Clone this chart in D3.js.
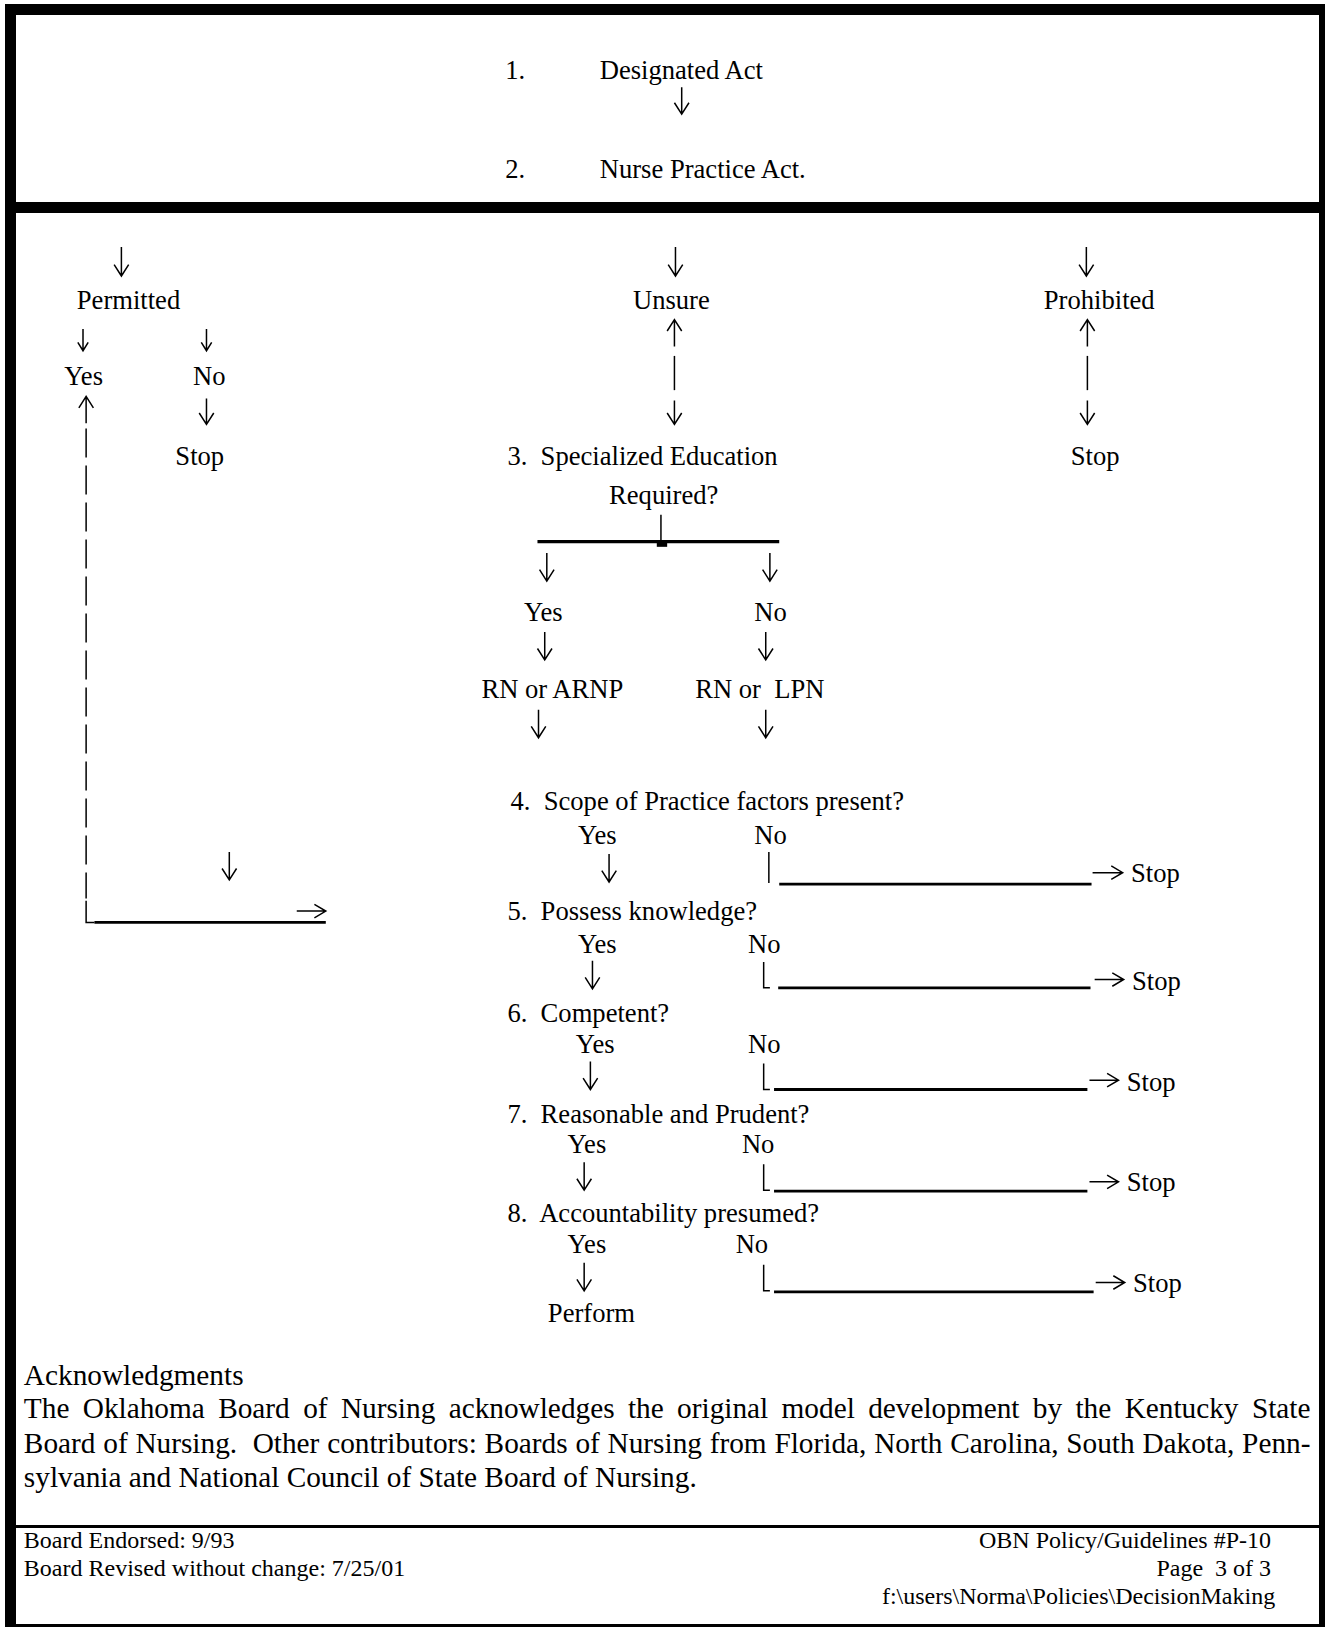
<!DOCTYPE html>
<html><head><meta charset="utf-8">
<script src="https://cdn.jsdelivr.net/npm/d3@7"></script>
<style>
html,body{margin:0;padding:0;background:#fff;}
svg{display:block;}
text{font-family:"Liberation Serif","Times New Roman",serif;fill:#000;white-space:pre;}
</style>
</head><body>
<svg id="c" width="1325" height="1627"></svg>
<script>
// ---------- content ----------
const actNumbers = ["1.", "2."];
const actLabels = ["Designated Act", "Nurse Practice Act."];
const outcomeLabels = ["Permitted", "Unsure", "Prohibited"];
const answerLabels = ["Yes", "No"];
const endLabel = "Stop";
const educationQuestion = ["3.  Specialized Education", "Required?"];
const credentialLabels = ["RN or ARNP", "RN or  LPN"];
const decisionQuestions = [
  "4.  Scope of Practice factors present?",
  "5.  Possess knowledge?",
  "6.  Competent?",
  "7.  Reasonable and Prudent?",
  "8.  Accountability presumed?"
];
const finalLabel = "Perform";
const ackTitle = "Acknowledgments";
const ackLines = [
  "The Oklahoma Board of Nursing acknowledges the original model development by the Kentucky State",
  "Board of Nursing.  Other contributors: Boards of Nursing from Florida, North Carolina, South Dakota, Penn-",
  "sylvania and National Council of State Board of Nursing."
];
const footerLeft = ["Board Endorsed: 9/93", "Board Revised without change: 7/25/01"];
const footerRight = ["OBN Policy/Guidelines #P-10", "Page  3 of 3", "f:\\users\\Norma\\Policies\\DecisionMaking"];

// ---------- layout ----------
const W = 1325, H = 1627;
const X = d3.scaleLinear().domain([0, 1277]).range([0, W]);
const Y = d3.scaleLinear().domain([0, 1568]).range([0, H]);
const svg = d3.select("#c");
const FLOW = 26.6, ACK = 29.3, FOOT = 24;

// frame
const frame = [
  [5, 4, 1320, 11], [5, 4, 11, 1623], [1319, 4, 11, 1623],
  [5, 202, 1320, 11], [16, 1525, 1303, 3], [5, 1624, 1320, 3]
];
svg.append("g").selectAll("rect").data(frame).join("rect")
  .attr("x", d => d[0]).attr("y", d => d[1]).attr("width", d => d[2]).attr("height", d => d[3])
  .attr("fill", "#000");

const g = svg.append("g");
const thin = 1.5;

function down(x, y1, y2, hw = 7, hh = 11) {
  return `M${X(x)},${Y(y1)}L${X(x)},${Y(y2)}M${X(x - hw)},${Y(y2 - hh)}L${X(x)},${Y(y2)}L${X(x + hw)},${Y(y2 - hh)}`;
}
function up(x, y1, y2, hw = 7, hh = 11) {
  return `M${X(x)},${Y(y2)}L${X(x)},${Y(y1)}M${X(x - hw)},${Y(y1 + hh)}L${X(x)},${Y(y1)}L${X(x + hw)},${Y(y1 + hh)}`;
}
function right(x1, x2, y, hw = 6.5, hh = 11) {
  return `M${X(x1)},${Y(y)}L${X(x2)},${Y(y)}M${X(x2 - hh)},${Y(y - hw)}L${X(x2)},${Y(y)}L${X(x2 - hh)},${Y(y + hw)}`;
}
function vline(x, y1, y2) { return `M${X(x)},${Y(y1)}L${X(x)},${Y(y2)}`; }
function corner(x, y1, y2, foot = 7) { return `M${X(x)},${Y(y1)}L${X(x)},${Y(y2)}L${X(x + foot)},${Y(y2)}`; }

// decision step layout (4..8)
const stepLayout = [
  {qx: 492, qy: 781, yesX: 557, noX: 727, ansY: 813, ax: 587, a1: 823, a2: 850, mark: "bar", mx: 741, m1: 821, m2: 851, l1: 751, l2: 1052, ly: 852, r1: 1053, r2: 1082, ry: 841, sx: 1090, sy: 850},
  {qx: 489, qy: 887, yesX: 557, noX: 721, ansY: 918, ax: 571, a1: 926, a2: 953, mark: "corner", mx: 736, m1: 927, m2: 952, l1: 750, l2: 1051, ly: 952, r1: 1055, r2: 1083, ry: 944, sx: 1091, sy: 954},
  {qx: 489, qy: 985, yesX: 555, noX: 721, ansY: 1015, ax: 569, a1: 1023, a2: 1050, mark: "corner", mx: 736, m1: 1025, m2: 1050, l1: 746, l2: 1048, ly: 1050, r1: 1050, r2: 1078, ry: 1041, sx: 1086, sy: 1051},
  {qx: 489, qy: 1082, yesX: 547, noX: 715, ansY: 1111, ax: 563, a1: 1120, a2: 1147, mark: "corner", mx: 736, m1: 1122, m2: 1147, l1: 746, l2: 1048, ly: 1148, r1: 1050, r2: 1078, ry: 1139, sx: 1086, sy: 1148},
  {qx: 489, qy: 1178, yesX: 547, noX: 709, ansY: 1208, ax: 563, a1: 1217, a2: 1244, mark: "corner", mx: 736, m1: 1219, m2: 1244, l1: 746, l2: 1054, ly: 1245, r1: 1056, r2: 1084, ry: 1236, sx: 1092, sy: 1245}
];

// thin paths
const paths = [
  down(657, 84, 110),
  down(117, 238, 266), down(651, 238, 266), down(1047, 238, 266),
  down(80, 317, 338, 5, 8), down(199, 317, 338, 5, 8),
  down(199, 384, 409),
  up(650, 308, 334), vline(650, 343, 376), down(650, 386, 409),
  up(1048, 308, 334), vline(1048, 343, 376), down(1048, 386, 409),
  up(83, 382, 408),
  corner(83, 868, 889, 8),
  down(221, 821, 848),
  right(286, 314, 878),
  vline(637, 496, 522),
  down(527, 533, 560), down(742, 533, 560),
  down(525, 609, 636), down(738, 609, 636),
  down(519, 684, 711), down(738, 684, 711)
];
stepLayout.forEach(s => {
  paths.push(down(s.ax, s.a1, s.a2));
  paths.push(s.mark === "bar" ? vline(s.mx, s.m1, s.m2) : corner(s.mx, s.m1, s.m2, 6));
  paths.push(right(s.r1, s.r2, s.ry));
});
g.selectAll("path.thin").data(paths).join("path").attr("class", "thin")
  .attr("d", d => d).attr("fill", "none").attr("stroke", "#000")
  .attr("stroke-width", thin).attr("stroke-linejoin", "miter");

// dashed return line
g.append("path").attr("d", vline(83, 413, 866)).attr("fill", "none")
  .attr("stroke", "#000").attr("stroke-width", thin).attr("stroke-dasharray", "29,8");

// thick lines
const thick = [[91, 314, 889, 2.8], [518, 751, 522, 3.2]];
stepLayout.forEach(s => thick.push([s.l1, s.l2, s.ly, 2.8]));
g.selectAll("line.thick").data(thick).join("line").attr("class", "thick")
  .attr("x1", d => X(d[0])).attr("x2", d => X(d[1])).attr("y1", d => Y(d[2])).attr("y2", d => Y(d[2]))
  .attr("stroke", "#000").attr("stroke-width", d => d[3]);
g.append("rect").attr("x", X(633)).attr("y", Y(522)).attr("width", X(643) - X(633)).attr("height", Y(527) - Y(522)).attr("fill", "#000");

// flow texts
const texts = [
  {t: actNumbers[0], x: 487, y: 76}, {t: actLabels[0], x: 578, y: 76},
  {t: actNumbers[1], x: 487, y: 172}, {t: actLabels[1], x: 578, y: 172},
  {t: outcomeLabels[0], x: 74, y: 298}, {t: outcomeLabels[1], x: 610, y: 298}, {t: outcomeLabels[2], x: 1006, y: 298},
  {t: answerLabels[0], x: 62, y: 371}, {t: answerLabels[1], x: 186, y: 371},
  {t: endLabel, x: 169, y: 448}, {t: endLabel, x: 1032, y: 448},
  {t: educationQuestion[0], x: 489, y: 448}, {t: educationQuestion[1], x: 587, y: 486},
  {t: answerLabels[0], x: 505, y: 598}, {t: answerLabels[1], x: 727, y: 598},
  {t: credentialLabels[0], x: 464, y: 673}, {t: credentialLabels[1], x: 670, y: 673},
  {t: finalLabel, x: 528, y: 1274}
];
stepLayout.forEach((s, i) => {
  texts.push({t: decisionQuestions[i], x: s.qx, y: s.qy});
  texts.push({t: answerLabels[0], x: s.yesX, y: s.ansY});
  texts.push({t: answerLabels[1], x: s.noX, y: s.ansY});
  texts.push({t: endLabel, x: s.sx, y: s.sy});
});
g.selectAll("text.flow").data(texts).join("text").attr("class", "flow")
  .attr("x", d => X(d.x)).attr("y", d => Y(d.y)).style("font-size", FLOW + "px").text(d => d.t);

// acknowledgments
g.append("text").attr("x", X(23)).attr("y", Y(1335)).style("font-size", ACK + "px").text(ackTitle);
const left = X(23), rightEdge = X(1263);
const ackY = [1367, 1400, 1433];
ackLines.forEach((line, i) => {
  const t = g.append("text").attr("y", Y(ackY[i])).style("font-size", ACK + "px");
  if (i === ackLines.length - 1) { t.attr("x", left).text(line); return; }
  const words = line.split(" ");
  const spans = words.map(w => t.append("tspan").text(w));
  const widths = spans.map(s => s.node().getComputedTextLength());
  const total = d3.sum(widths);
  const gap = (rightEdge - left - total) / (words.length - 1);
  let x = left;
  spans.forEach((s, j) => { s.attr("x", x); x += widths[j] + gap; });
});

// footer
g.selectAll("text.fl").data(footerLeft).join("text").attr("class", "fl")
  .attr("x", X(23)).attr("y", (d, i) => Y(1492 + i * 27)).style("font-size", FOOT + "px").text(d => d);
g.selectAll("text.fr").data(footerRight).join("text").attr("class", "fr")
  .attr("x", (d, i) => X(i === 2 ? 1229 : 1225)).attr("y", (d, i) => Y(1492 + i * 27))
  .attr("text-anchor", "end").style("font-size", FOOT + "px").text(d => d);
</script>
</body></html>
